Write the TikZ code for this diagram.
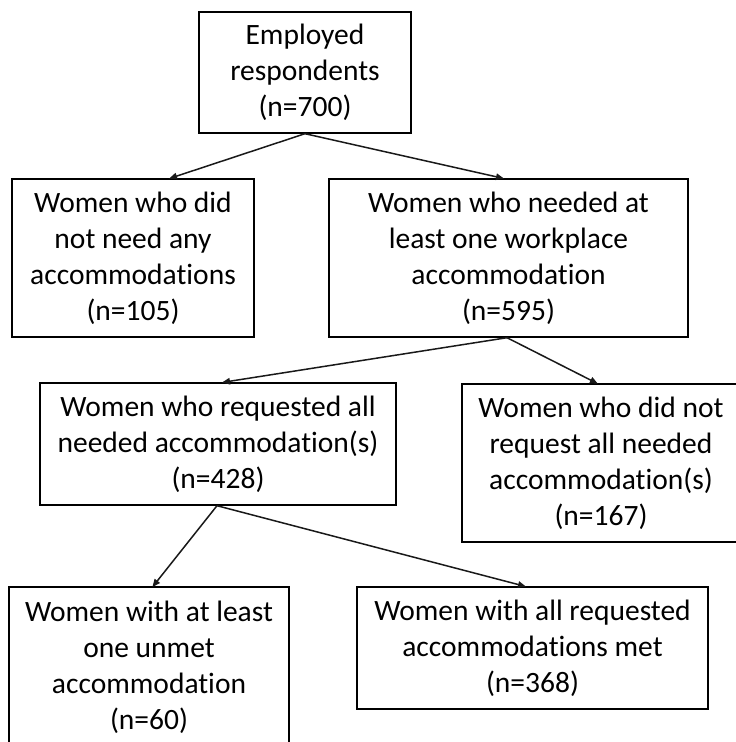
\documentclass[tikz,border=0pt]{standalone}
\usepackage{fontspec}
\setmainfont{Carlito}[Ligatures={NoCommon}]
\usetikzlibrary{arrows.meta}

\tikzset{
  box/.style={draw=black, line width=1.4pt, rectangle, inner sep=0pt,
    align=center, font=\fontsize{29.5}{36}\selectfont, text=black},
  arr/.style={draw=black!90, line width=1.5pt,
    -{Triangle[length=8pt,width=6.5pt]}, shorten >=-1pt}
}

\begin{document}
\begin{tikzpicture}[x=1pt,y=-1pt]
  \useasboundingbox (0,0) rectangle (736,742);
  \begin{scope}
    \clip (0,0) rectangle (736,742);

    % boxes
    \node[box, minimum width=212pt, minimum height=121pt] (emp) at (305,72.5)
      {Employed\\respondents\\(n=700)};
    \node[box, minimum width=242pt, minimum height=158pt] (noneed) at (133,258)
      {Women who did\\not need any\\accommodations\\(n=105)};
    \node[box, minimum width=359pt, minimum height=158pt] (need) at (508.5,258)
      {Women who needed at\\least one workplace\\accommodation\\(n=595)};
    \node[box, minimum width=356pt, minimum height=122pt] (req) at (218,444)
      {Women who requested all\\needed accommodation(s)\\(n=428)};
    \node[box, minimum width=278pt, minimum height=158pt] (noreq) at (601,463)
      {Women who did not\\request all needed\\accommodation(s)\\(n=167)};
    \node[box, minimum width=280pt, minimum height=160pt] (unmet) at (149,667)
      {Women with at least\\one unmet\\accommodation\\(n=60)};
    \node[box, minimum width=351pt, minimum height=122pt] (met) at (532.5,648)
      {Women with all requested\\accommodations met\\(n=368)};

    % connectors
    \draw[arr] (emp.south) -- ([xshift=37pt]noneed.north);
    \draw[arr] (emp.south) -- ([xshift=-5.5pt]need.north);
    \draw[arr] ([xshift=-1.5pt]need.south) -- ([xshift=5pt]req.north);
    \draw[arr] ([xshift=-1.5pt]need.south) -- ([xshift=-4pt]noreq.north);
    \draw[arr] ([xshift=-1pt]req.south) -- ([xshift=4pt]unmet.north);
    \draw[arr] ([xshift=-1pt]req.south) -- ([xshift=-7.5pt]met.north);
  \end{scope}
\end{tikzpicture}
\end{document}
